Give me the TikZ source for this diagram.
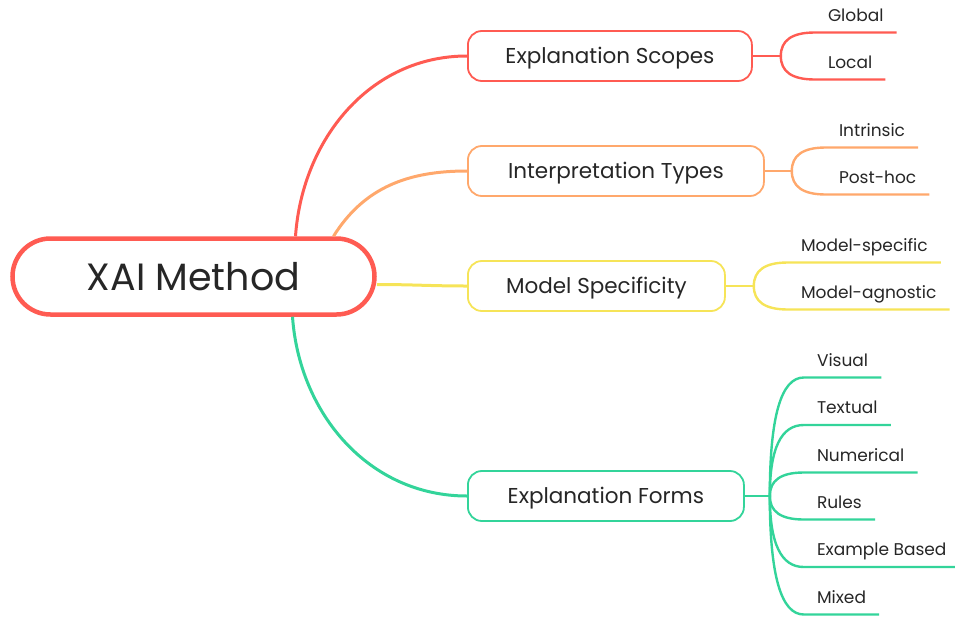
\documentclass[tikz,border=0pt]{standalone}
\usepackage{fontspec}
\setmainfont{Poppins}
\usetikzlibrary{positioning,calc}
\definecolor{scopered}{HTML}{FF5B52}
\definecolor{typeorange}{HTML}{FFA86C}
\definecolor{specyellow}{HTML}{F6E458}
\definecolor{formgreen}{HTML}{33D49A}
\definecolor{inkgray}{HTML}{262626}
\tikzset{%
  every topic/.style={fill=white,rounded corners=14pt,line width=1.8pt,minimum height=50pt,anchor=west,text height=15pt,text depth=1pt,text=inkgray,font=\fontsize{21.5}{25}\selectfont},
  every leaf/.style={anchor=south west,inner xsep=13pt,inner ysep=11pt,text depth=0pt,text=inkgray,font=\fontsize{17}{20}\selectfont},
}

\begin{document}
\begin{tikzpicture}[
            x=1pt,y=-1pt,
            root/.style={
              draw=scopered,
              fill=white,
              line width=4.5pt,
              rounded corners=38pt,
              minimum width=362pt,
              minimum height=76pt,
              text=inkgray,
              font=\fontsize{38}{44}\selectfont
              },
            topic/.style={every topic,draw=#1},
            leaf/.style={every leaf},
            trunk/.style={line width=3pt},
            twig/.style={line width=2.4pt}
            ]
            \useasboundingbox (0,0) rectangle (955,616);

            % main topic and the four branches
            \node[root] (xai) at (193.5,276.5) {XAI Method};

            \node[topic=scopered,minimum width=284pt]   (scopes) at (467,56)  {Explanation Scopes};
            \node[topic=typeorange,minimum width=296pt] (types)  at (467,171) {Interpretation Types};
            \node[topic=specyellow,minimum width=257pt] (spec)   at (467,286) {Model Specificity};
            \node[topic=formgreen,minimum width=276pt]  (forms)  at (467,496) {Explanation Forms};

            \draw[trunk,scopered]   ([xshift=102pt]xai.north) to[out=86,in=180] (scopes.west);
            \draw[trunk,typeorange] ([xshift=140pt]xai.north) to[out=58,in=180] (types.west);
            \draw[trunk,specyellow] ([yshift=-8pt]xai.east) to[out=0,in=180] (spec.west);
            \draw[trunk,formgreen]  ([xshift=99pt]xai.south) to[out=-86,in=180] (forms.west);

            % short stubs to the fork points
            \foreach \br/\col/\gap in {scopes/scopered/28,types/typeorange/27,spec/specyellow/28,forms/formgreen/25}
            {
              \coordinate (\br-fork) at ([xshift=\gap pt]\br.east);
              \draw[twig,\col] (\br) -- (\br-fork);
            }

            % leaves with their underlines
            \foreach \br/\col/\lf/\dy/\txt in {
                scopes/scopered/global/-23.5/Global,
                scopes/scopered/local/23.5/Local,
                types/typeorange/intrinsic/-23.5/Intrinsic,
                types/typeorange/posthoc/23.5/Post-hoc,
                spec/specyellow/specific/-23.5/Model-specific,
                spec/specyellow/agnostic/23.5/Model-agnostic,
                forms/formgreen/visual/-118.5/Visual,
                forms/formgreen/textual/-71/Textual,
                forms/formgreen/numerical/-23.5/Numerical,
                forms/formgreen/rules/23.5/Rules,
                forms/formgreen/example/71/Example Based,
                forms/formgreen/mixed/118.5/Mixed}
            {
              \node[leaf] (\lf) at ($(\br-fork)+(34,\dy)$) {\txt};
              \coordinate (\lf-bend) at (\br-fork |- \lf.south west);
              \draw[twig,\col] (\br-fork)
                .. controls ($(\br-fork)!.67!(\lf-bend)$) and ($(\lf.south west)!.67!(\lf-bend)$) .. (\lf.south west)
                -- (\lf.south east);
            }
\end{tikzpicture}
\end{document}
